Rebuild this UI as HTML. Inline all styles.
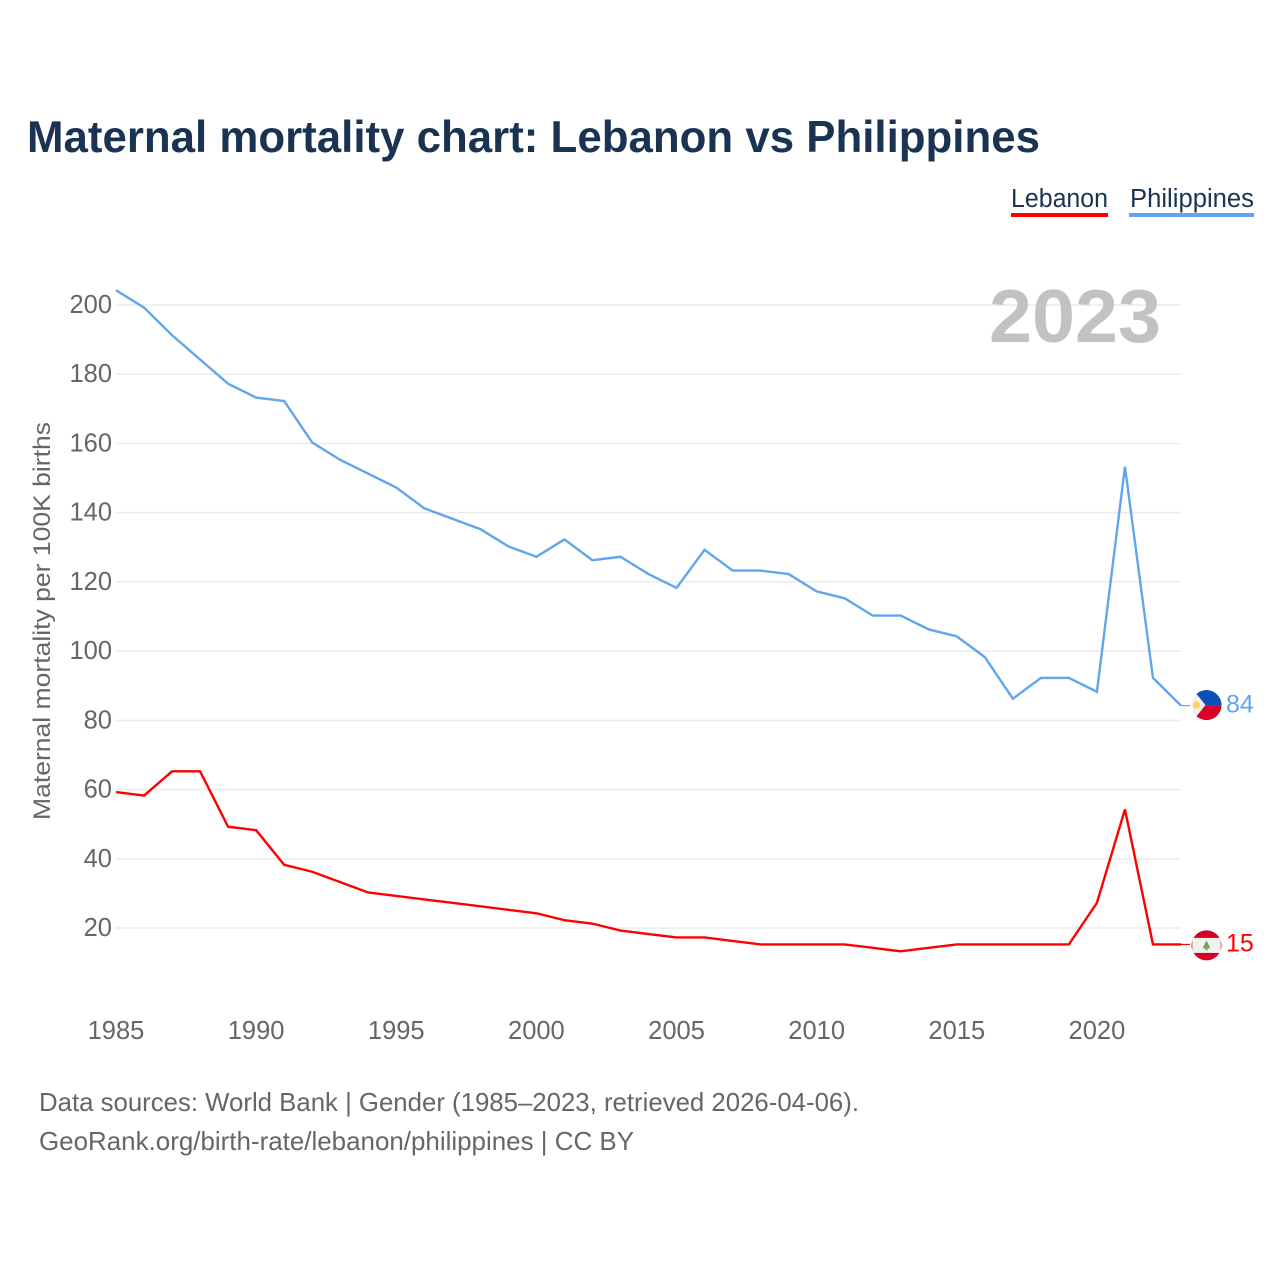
<!DOCTYPE html>
<html lang="en">
<head>
<meta charset="utf-8">
<title>Maternal mortality chart: Lebanon vs Philippines</title>
<style>
html,body{margin:0;padding:0;background:#fff;width:1280px;height:1280px;overflow:hidden}
svg{display:block;font-family:"Liberation Sans",sans-serif}
</style>
</head>
<body>
<svg id="chart" width="1280" height="1280" viewBox="0 0 1280 1280">
  <rect width="1280" height="1280" fill="#fff"/>
  <text x="27" y="152" font-size="44.5" font-weight="700" fill="#1a3353" textLength="1013" lengthAdjust="spacingAndGlyphs">Maternal mortality chart: Lebanon vs Philippines</text>

  <g>
    <g>
      <text x="1011" y="207" font-size="25.5" fill="#1a3353" textLength="97" lengthAdjust="spacingAndGlyphs">Lebanon</text>
      <rect x="1011" y="213" width="97" height="4" fill="#ff0000"/>
    </g>
    <g>
      <text x="1130" y="207" font-size="25.5" fill="#1a3353" textLength="124" lengthAdjust="spacingAndGlyphs">Philippines</text>
      <rect x="1129" y="213" width="125" height="4" fill="#60a5ee"/>
    </g>
  </g>

  <g id="grid"></g>
  <text x="1161" y="342" text-anchor="end" font-size="75" font-weight="700" fill="#c2c2c2" textLength="172" lengthAdjust="spacingAndGlyphs">2023</text>
  <g id="yticks"></g>
  <g id="xticks"></g>
  <text transform="translate(50,621) rotate(-90)" text-anchor="middle" font-size="24" fill="#666" textLength="398" lengthAdjust="spacingAndGlyphs">Maternal mortality per 100K births</text>

  <g id="series"></g>
  <g id="ends"></g>

  <g>
    <text x="39" y="1111" font-size="26" fill="#666" textLength="820" lengthAdjust="spacingAndGlyphs">Data sources: World Bank | Gender (1985–2023, retrieved 2026-04-06).</text>
    <text x="39" y="1150" font-size="26" fill="#666" textLength="595" lengthAdjust="spacingAndGlyphs">GeoRank.org/birth-rate/lebanon/philippines | CC BY</text>
  </g>
</svg>
<script>
const years = [1985,1986,1987,1988,1989,1990,1991,1992,1993,1994,1995,1996,1997,1998,1999,2000,2001,2002,2003,2004,2005,2006,2007,2008,2009,2010,2011,2012,2013,2014,2015,2016,2017,2018,2019,2020,2021,2022,2023];
const philippines = [204,199,191,184,177,173,172,160,155,151,147,141,138,135,130,127,132,126,127,122,118,129,123,123,122,117,115,110,110,106,104,98,86,92,92,88,153,92,84];
const lebanon = [59,58,65,65,49,48,38,36,33,30,29,28,27,26,25,24,22,21,19,18,17,17,16,15,15,15,15,14,13,14,15,15,15,15,15,27,54,15,15];
const yTickValues = [20,40,60,80,100,120,140,160,180,200];
const xTickValues = [1985,1990,1995,2000,2005,2010,2015,2020];

const NS = 'http://www.w3.org/2000/svg';
const xScale = function (year) { return 116 + (year - 1985) * (1181 - 116) / (2023 - 1985); };
const yScale = function (value) { return 928 - (value - 20) * (928 - 305) / (200 - 20); };
const lineOffset = -0.9;
function make(tag, attrs, parent) {
  const el = document.createElementNS(NS, tag);
  Object.keys(attrs).forEach(function (k) { el.setAttribute(k, attrs[k]); });
  parent.appendChild(el);
  return el;
}
const gridGroup = document.getElementById('grid');
const yGroup = document.getElementById('yticks');
const xGroup = document.getElementById('xticks');
const seriesGroup = document.getElementById('series');
const endsGroup = document.getElementById('ends');

yTickValues.forEach(function (v) {
  const line = make('line', {x1: 116, x2: 1181, y1: yScale(v), y2: yScale(v), stroke: '#ebebeb', 'stroke-width': 1.5}, gridGroup);
  
  
  const label = make('text', {x: 112, y: yScale(v) + 8, 'text-anchor': 'end', 'font-size': 25.5, fill: '#666'}, yGroup);
  
  
  label.textContent = v;
});
xTickValues.forEach(function (v) {
  const label = make('text', {x: xScale(v), y: 1039, 'text-anchor': 'middle', 'font-size': 25.5, fill: '#666'}, xGroup);
  
  
  label.textContent = v;
});

function drawSeries(values, color, key) {
  const pts = values.map(function (v, i) { return xScale(years[i]).toFixed(2) + ',' + (yScale(v) + lineOffset).toFixed(2); }).join(' ');
  const line = make('polyline', {points: pts, fill: 'none', stroke: color, 'stroke-width': 2.4, 'stroke-linejoin': 'miter'}, seriesGroup);
  
  
  const last = values[values.length - 1];
  const ly = yScale(last) + lineOffset;
  const lead = make('line', {x1: 1181, x2: 1190, y1: ly, y2: ly, stroke: color, 'stroke-width': 1.2}, endsGroup);
  
  
  const val = make('text', {x: 1226, y: ly + 7, 'font-size': 25, fill: color}, endsGroup);
  
  
  val.textContent = last;
  return ly;
}
function flagGroup(cy, key) {
  const g = make('g', {transform: 'translate(1206.5,' + cy + ')'}, endsGroup);
  
  
  return g;
}

const phY = drawSeries(philippines, '#60a5ee', 'philippines');
const lbY = drawSeries(lebanon, '#ff0000', 'lebanon');

// Philippines flag
const ph = flagGroup(phY - 0.5, 'philippines');
make('circle', {r: 15, fill: '#f2f0ee'}, ph);
make('path', {d: 'M-10 -11.2A15 15 0 0 1 15 0L-1 0Z', fill: '#0b50b4'}, ph);
make('path', {d: 'M-10 11.2A15 15 0 0 0 15 0L-1 0Z', fill: '#d80027'}, ph);
make('circle', {cx: -10, cy: 0, r: 3.6, fill: '#ffd45e'}, ph);

// Lebanon flag
const lb = flagGroup(lbY + 1, 'lebanon');
make('circle', {r: 15, fill: '#d80027'}, lb);
make('rect', {x: -14.2, y: -7.5, width: 28.4, height: 15, fill: '#f0f0f0'}, lb);
make('path', {d: 'M0 -5L3.8 3H1V5H-1V3H-3.8Z', fill: '#6da544'}, lb);
</script>
</body>
</html>
